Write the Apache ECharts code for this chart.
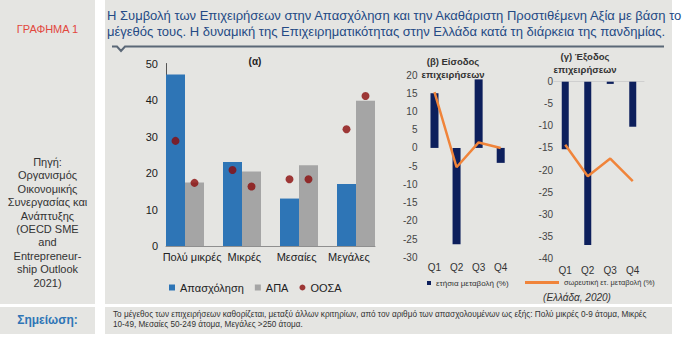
<!DOCTYPE html>
<html>
<head>
<meta charset="utf-8">
<script src="https://cdn.jsdelivr.net/npm/echarts@6.0.0/dist/echarts.min.js"></script>
<style>
  html, body { margin:0; padding:0; width:700px; height:341px; overflow:hidden; background:#ffffff; font-family:"Liberation Sans", Arial, sans-serif; }
  .box { position:absolute; background:#e5e5e2; }
  .abs { position:absolute; white-space:nowrap; }
  .ctr { position:absolute; white-space:nowrap; text-align:center; }
  #chartA { position:absolute; left:105px; top:0; width:295px; height:304px; z-index:2; overflow:hidden; }
  #chartB { position:absolute; left:400px; top:0; width:272px; height:304px; z-index:2; overflow:hidden; }
</style>
</head>
<body>
<div class="box" style="left:0;top:0;width:95px;height:304px;"></div>
<div class="box" style="left:105px;top:0;width:567px;height:304px;"></div>
<div class="box" style="left:0;top:307px;width:95px;height:27px;"></div>
<div class="box" style="left:105px;top:307px;width:567px;height:27px;"></div>

<div class="abs" style="left:0;width:95px;top:23px;text-align:center;font-size:11px;color:#e2473d;">ΓΡΑΦΗΜΑ 1</div>
<div class="abs" style="left:0;width:95px;top:156px;text-align:center;font-size:11px;line-height:13.4px;color:#333;">Πηγή:<br>Οργανισμός<br>Οικονομικής<br>Συνεργασίας και<br>Ανάπτυξης<br>(OECD SME<br>and<br>Entrepreneur-<br>ship Outlook<br>2021)</div>

<div class="abs" style="left:107px;top:8px;font-size:13px;line-height:16px;color:#244a85;">Η Συμβολή των Επιχειρήσεων στην Απασχόληση και την Ακαθάριστη Προστιθέμενη Αξία με βάση το<br>μέγεθός τους. Η δυναμική της Επιχειρηματικότητας στην Ελλάδα κατά τη διάρκεια της πανδημίας.</div>
<svg class="abs" style="left:0;top:0;" width="700" height="60">
  <polyline points="112,46.5 117,46.5 121,51 125,46.5 664,46.5" fill="none" stroke="#5b6877" stroke-width="2"/>
</svg>

<div class="ctr" style="left:225px;width:60px;top:56px;font-size:10px;line-height:12px;font-weight:bold;color:#222;">(α)</div>
<div class="ctr" style="left:403px;width:100px;top:55px;font-size:9.5px;line-height:13px;font-weight:bold;color:#333;">(β) Είσοδος<br>επιχειρήσεων</div>
<div class="ctr" style="left:535px;width:100px;top:50px;font-size:9.5px;line-height:13px;font-weight:bold;color:#333;">(γ) Έξοδος<br>επιχειρήσεων</div>
<div class="ctr" style="left:527px;width:100px;top:292px;font-size:10px;line-height:12px;font-style:italic;color:#333;">(Ελλάδα, 2020)</div>

<div class="abs" style="left:0;width:95px;top:313px;text-align:center;font-size:12px;font-weight:bold;color:#2e75b6;">Σημείωση:</div>
<div class="abs" style="left:113px;top:310px;font-size:8.2px;line-height:10px;color:#333;">Το μέγεθος των επιχειρήσεων καθορίζεται, μεταξύ άλλων κριτηρίων, από τον αριθμό των απασχολουμένων ως εξής: Πολύ μικρές 0-9 άτομα, Μικρές<br>10-49, Μεσαίες 50-249 άτομα, Μεγάλες &gt;250 άτομα.</div>

<div id="chartA"></div>
<div id="chartB"></div>
<script>
// ---- data ----
const sizeCategories = ['Πολύ μικρές', 'Μικρές', 'Μεσαίες', 'Μεγάλες'];
const employmentShare = [47, 23, 13, 17];
const gvaShare = [17.4, 20.4, 22.1, 39.8];
const oecdEmployment = [28.8, 20.8, 18.3, 32.0];
const oecdGva = [17.3, 16.3, 18.3, 41.1];

const quarters = ['Q1', 'Q2', 'Q3', 'Q4'];
const entryAnnual = [15.0, -26.4, 18.8, -4.1];
const entryCumulative = [15.3, -5.3, 1.5, 0.0];
const exitAnnual = [-15.3, -37.0, -0.5, -10.2];
const exitCumulative = [-14.3, -21.4, -17.4, -22.5];

const seriesNames = ['Απασχόληση', 'ΑΠΑ', 'ΟΟΣΑ', 'ετήσια μεταβολή (%)', 'σωρευτική ετ. μεταβολή (%)'];

const FONT = '"Liberation Sans", Arial, sans-serif';
const NOLINE = { show: false, lineStyle: { color: 'rgba(0,0,0,0)' } };

// ---- chart (α) ----
const chartA = echarts.init(document.getElementById('chartA'), null, { renderer: 'svg' });
chartA.setOption({
  animation: false,
  textStyle: { fontFamily: FONT },
  grid: [
    { left: 51.5, top: 63.5, width: 228, height: 182.5 },
    { left: 61, top: 63.5, width: 209, height: 182.5 }
  ],
  xAxis: [
    { type: 'category', gridIndex: 0, data: sizeCategories, axisLine: NOLINE, axisTick: { show: false }, axisLabel: { show: false } },
    { type: 'category', gridIndex: 1, data: sizeCategories, axisLine: { show: true, lineStyle: { color: '#8f8f8f' } }, axisTick: { show: false },
      axisLabel: { interval: 0, fontSize: 11, color: '#222', margin: 5, fontFamily: FONT } }
  ],
  yAxis: [
    { type: 'value', gridIndex: 0, min: 0, max: 50, interval: 10, show: false },
    { type: 'value', gridIndex: 1, min: 0, max: 50, interval: 10, axisLine: { show: true, lineStyle: { color: '#555' } }, axisTick: { show: false }, splitLine: { show: false },
      axisLabel: { fontSize: 11, color: '#1a1a1a', margin: 8, fontFamily: FONT } }
  ],
  legend: [
    { left: 64, top: 282, padding: 0, itemWidth: 6, itemHeight: 6, itemGap: 11,
      textStyle: { fontSize: 11, color: '#222', fontFamily: FONT },
      data: [{ name: seriesNames[0], icon: 'rect' }, { name: seriesNames[1], icon: 'rect' }, { name: seriesNames[2], icon: 'circle' }] }
  ],
  series: [
    { name: seriesNames[0], type: 'bar', xAxisIndex: 0, yAxisIndex: 0, data: employmentShare, barWidth: 19, barGap: '0%', itemStyle: { color: '#2e75b6' } },
    { name: seriesNames[1], type: 'bar', xAxisIndex: 0, yAxisIndex: 0, data: gvaShare, barWidth: 19, barGap: '0%', itemStyle: { color: '#a5a5a5' } },
    { name: seriesNames[2], type: 'scatter', xAxisIndex: 0, yAxisIndex: 0, data: oecdEmployment, symbolSize: 8, symbolOffset: [-9.5, 0], itemStyle: { color: '#8b0b0b' } },
    { name: seriesNames[2], type: 'scatter', xAxisIndex: 0, yAxisIndex: 0, data: oecdGva, symbolSize: 8, symbolOffset: [9.5, 0], itemStyle: { color: '#8b0b0b' } }
  ]
});

// ---- charts (β) and (γ) ----
const chartB = echarts.init(document.getElementById('chartB'), null, { renderer: 'svg' });
chartB.setOption({
  animation: false,
  textStyle: { fontFamily: FONT },
  grid: [
    { left: 21.75, top: 75, width: 90, height: 182.3 },
    { left: 154, top: 81.7, width: 90, height: 176.6 }
  ],
  xAxis: [
    { type: 'category', gridIndex: 0, data: quarters, position: 'bottom', axisLine: { show: false, onZero: false }, axisTick: { show: false },
      axisLabel: { fontSize: 10, color: '#333', margin: 5, fontFamily: FONT } },
    { type: 'category', gridIndex: 1, data: quarters, position: 'top', axisLine: { show: true, onZero: false, lineStyle: { color: '#cfcfcf' } },
      axisTick: { show: false }, axisLabel: { show: false } },
    { type: 'category', gridIndex: 1, data: quarters, position: 'bottom', axisLine: { show: false, onZero: false }, axisTick: { show: false },
      axisLabel: { fontSize: 10, color: '#333', margin: 7, fontFamily: FONT } }
  ],
  yAxis: [
    { type: 'value', gridIndex: 0, min: -30, max: 20, interval: 5, axisLine: NOLINE, axisTick: { show: false }, splitLine: { show: false },
      axisLabel: { fontSize: 10, color: '#444', margin: 6, fontFamily: FONT } },
    { type: 'value', gridIndex: 1, min: -40, max: 0, interval: 5, axisLine: NOLINE, axisTick: { show: false }, splitLine: { show: false },
      axisLabel: { fontSize: 10, color: '#444', margin: 1, fontFamily: FONT } }
  ],
  legend: [
    { left: 27, top: 279, padding: 0, itemWidth: 4, itemHeight: 4,
      textStyle: { fontSize: 8, color: '#333', fontFamily: FONT },
      data: [{ name: seriesNames[3], icon: 'rect' }] },
    { left: 125, top: 279, padding: 0, itemWidth: 34, itemHeight: 3,
      textStyle: { fontSize: 7.4, color: '#333', fontFamily: FONT },
      data: [{ name: seriesNames[4], icon: 'rect' }] }
  ],
  series: [
    { name: seriesNames[3], type: 'bar', xAxisIndex: 0, yAxisIndex: 0, data: entryAnnual, barWidth: 8, itemStyle: { color: '#0d1f5c' } },
    { name: seriesNames[4], type: 'line', xAxisIndex: 0, yAxisIndex: 0, data: entryCumulative, symbol: 'none', lineStyle: { color: '#f0843a', width: 2.5 }, itemStyle: { color: '#f0843a' } },
    { name: seriesNames[3], type: 'bar', xAxisIndex: 2, yAxisIndex: 1, data: exitAnnual, barWidth: 7, itemStyle: { color: '#0d1f5c' } },
    { name: seriesNames[4], type: 'line', xAxisIndex: 2, yAxisIndex: 1, data: exitCumulative, symbol: 'none', lineStyle: { color: '#f0843a', width: 2.5 }, itemStyle: { color: '#f0843a' } }
  ]
});
</script>
</body>
</html>
